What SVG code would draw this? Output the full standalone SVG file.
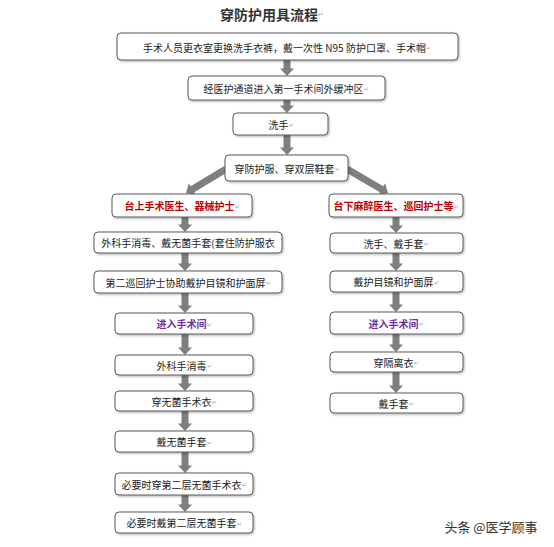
<svg xmlns="http://www.w3.org/2000/svg" width="554" height="547" viewBox="0 0 554 547">
<style>
.bx{fill:#fff;stroke:#5a5a5a;stroke-width:1;filter:url(#sh)}
.t{font-family:"Noto Sans CJK SC","Liberation Sans",sans-serif;font-size:10px;fill:#222;text-anchor:middle;dominant-baseline:central}
.red{fill:#c00000;font-weight:bold}
.pur{fill:#7030a0;font-weight:bold}
.pm{fill:#aaa;font-size:6px;font-weight:normal}
.ar{stroke:#7f7f7f;stroke-width:7;fill:none;marker-end:url(#ah)}
</style>
<defs>
<filter id="sh" x="-10%" y="-20%" width="120%" height="150%"><feDropShadow dx="1" dy="1.2" stdDeviation="0.8" flood-color="#000" flood-opacity="0.3"/></filter>
<marker id="ah" markerUnits="userSpaceOnUse" markerWidth="14" markerHeight="14" viewBox="0 0 8 14" refX="0.5" refY="7" orient="auto"><path d="M0,0 L7.5,7 L0,14 z" fill="#7f7f7f"/></marker>
</defs>
<rect width="554" height="547" fill="#fff"/>
<text x="272" y="14" style="font-family:'Noto Sans CJK SC',serif;font-size:14px;font-weight:bold;fill:#333;text-anchor:middle;dominant-baseline:central">穿防护用具流程<tspan style="fill:#aaa;font-size:7px;font-weight:normal">↵</tspan></text>
<g id="connectors">
<line class="ar" x1="287" y1="60" x2="287" y2="69"/>
<line class="ar" x1="287" y1="100" x2="287" y2="106"/>
<line class="ar" x1="287" y1="135" x2="287" y2="148"/>
<line class="ar" x1="226" y1="169" x2="192" y2="189.4"/>
<line class="ar" x1="347" y1="169" x2="382" y2="189.5"/>
<line class="ar" x1="185" y1="217" x2="185" y2="225"/>
<line class="ar" x1="185" y1="253" x2="185" y2="264"/>
<line class="ar" x1="185" y1="293" x2="185" y2="306"/>
<line class="ar" x1="185" y1="334" x2="185" y2="348"/>
<line class="ar" x1="185" y1="375" x2="185" y2="384"/>
<line class="ar" x1="185" y1="411" x2="185" y2="424"/>
<line class="ar" x1="185" y1="452" x2="185" y2="466"/>
<line class="ar" x1="185" y1="495" x2="185" y2="505"/>
<line class="ar" x1="396" y1="217" x2="396" y2="226"/>
<line class="ar" x1="396" y1="253" x2="396" y2="264"/>
<line class="ar" x1="396" y1="292" x2="396" y2="305"/>
<line class="ar" x1="396" y1="334" x2="396" y2="345"/>
<line class="ar" x1="396" y1="372" x2="396" y2="386"/>
</g>
<g id="n1"><rect class="bx" x="117" y="33" width="341" height="27" rx="4"/><text class="t" x="287" y="47">手术人员更衣室更换洗手衣裤，戴一次性 N95 防护口罩、手术帽<tspan class="pm">↵</tspan></text></g>
<g id="n2"><rect class="bx" x="188" y="76" width="197" height="24" rx="4"/><text class="t" x="286" y="88">经医护通道进入第一手术间外缓冲区<tspan class="pm">↵</tspan></text></g>
<g id="n3"><rect class="bx" x="233" y="113" width="95" height="22" rx="4"/><text class="t" x="281" y="124">洗手<tspan class="pm">↵</tspan></text></g>
<g id="n4"><rect class="bx" x="225" y="155" width="123" height="26" rx="4"/><text class="t" x="287" y="168">穿防护服、穿双层鞋套<tspan class="pm">↵</tspan></text></g>
<g id="l5"><rect class="bx" x="112" y="194" width="140" height="23" rx="4"/><text class="t red" x="182" y="205.5">台上手术医生、器械护士<tspan class="pm">↵</tspan></text></g>
<g id="r5"><rect class="bx" x="329" y="194" width="134" height="23" rx="4"/><text class="t red" x="396" y="205.5">台下麻醉医生、巡回护士等<tspan class="pm">↵</tspan></text></g>
<g id="l6"><rect class="bx" x="94" y="232" width="188" height="21" rx="4"/><text class="t" x="188" y="242.5">外科手消毒、戴无菌手套(套住防护服衣</text></g>
<g id="r6"><rect class="bx" x="330" y="233" width="133" height="20" rx="4"/><text class="t" x="396" y="243">洗手、戴手套<tspan class="pm">↵</tspan></text></g>
<g id="l7"><rect class="bx" x="94" y="271" width="188" height="22" rx="4"/><text class="t" x="188" y="282">第二巡回护士协助戴护目镜和护面屏<tspan class="pm">↵</tspan></text></g>
<g id="r7"><rect class="bx" x="330" y="271" width="133" height="21" rx="4"/><text class="t" x="396" y="281.5">戴护目镜和护面屏<tspan class="pm">↵</tspan></text></g>
<g id="l8"><rect class="bx" x="115" y="313" width="138" height="21" rx="4"/><text class="t pur" x="184" y="323.5">进入手术间<tspan class="pm">↵</tspan></text></g>
<g id="r8"><rect class="bx" x="330" y="312" width="133" height="22" rx="4"/><text class="t pur" x="396" y="323">进入手术间<tspan class="pm">↵</tspan></text></g>
<g id="l9"><rect class="bx" x="115" y="355" width="138" height="20" rx="4"/><text class="t" x="184" y="365">外科手消毒<tspan class="pm">↵</tspan></text></g>
<g id="r9"><rect class="bx" x="330" y="352" width="133" height="20" rx="4"/><text class="t" x="396" y="362">穿隔离衣<tspan class="pm">↵</tspan></text></g>
<g id="l10"><rect class="bx" x="115" y="391" width="138" height="20" rx="4"/><text class="t" x="184" y="401">穿无菌手术衣<tspan class="pm">↵</tspan></text></g>
<g id="r10"><rect class="bx" x="330" y="393" width="133" height="20" rx="4"/><text class="t" x="396" y="403">戴手套<tspan class="pm">↵</tspan></text></g>
<g id="l11"><rect class="bx" x="115" y="431" width="138" height="21" rx="4"/><text class="t" x="184" y="441.5">戴无菌手套<tspan class="pm">↵</tspan></text></g>
<g id="l12"><rect class="bx" x="115" y="473" width="138" height="22" rx="4"/><text class="t" x="184" y="484">必要时穿第二层无菌手术衣<tspan class="pm">↵</tspan></text></g>
<g id="l13"><rect class="bx" x="115" y="512" width="138" height="21" rx="4"/><text class="t" x="184" y="522.5">必要时戴第二层无菌手套<tspan class="pm">↵</tspan></text></g>
<text x="491" y="526" style="font-family:'Noto Sans CJK SC',sans-serif;font-size:13px;fill:#333;text-anchor:middle;dominant-baseline:central">头条 @医学顾事</text>
</svg>
